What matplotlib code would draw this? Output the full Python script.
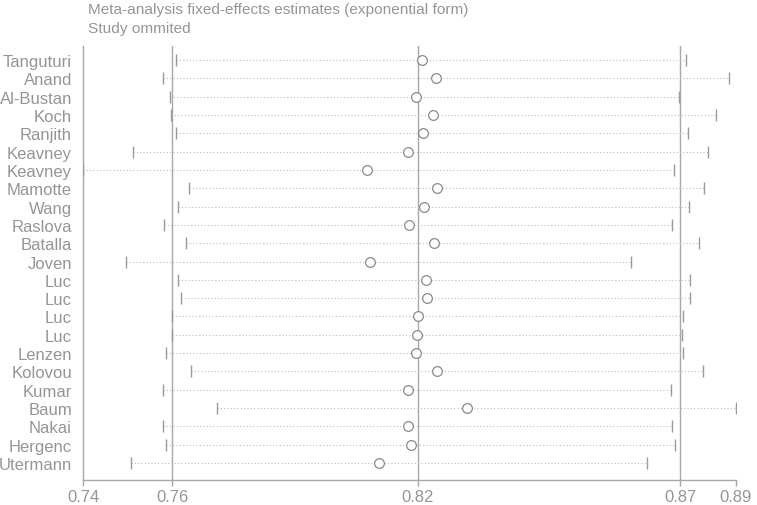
import matplotlib
matplotlib.use("Agg")
import matplotlib.pyplot as plt

studies = ["Tanguturi", "Anand", "Al-Bustan", "Koch", "Ranjith", "Keavney", "Keavney",
           "Mamotte", "Wang", "Raslova", "Batalla", "Joven", "Luc", "Luc", "Luc", "Luc",
           "Lenzen", "Kolovou", "Kumar", "Baum", "Nakai", "Hergenc", "Utermann"]
estimate = [0.8169, 0.8199, 0.8155, 0.8194, 0.8171, 0.8138, 0.8046, 0.8203, 0.8173, 0.8140,
            0.8195, 0.8053, 0.8177, 0.8179, 0.8160, 0.8158, 0.8155, 0.8203, 0.8138, 0.8268,
            0.8138, 0.8144, 0.8074]
lower = [0.7624, 0.7596, 0.7610, 0.7613, 0.7625, 0.7529, 0.7418, 0.7652, 0.7629, 0.7598,
         0.7647, 0.7513, 0.7629, 0.7634, 0.7615, 0.7615, 0.7602, 0.7657, 0.7596, 0.7715,
         0.7596, 0.7602, 0.7525]
upper = [0.8754, 0.8849, 0.8737, 0.8819, 0.8758, 0.8801, 0.8727, 0.8794, 0.8759, 0.8722,
         0.8781, 0.8631, 0.8763, 0.8763, 0.8747, 0.8744, 0.8747, 0.8792, 0.8721, 0.8864,
         0.8722, 0.8729, 0.8666]
# overall estimate and CI (reference lines), and axis extremes
overall = [0.7616, 0.8159, 0.8741]
tick_values = [0.7418, 0.7616, 0.8159, 0.8741, 0.8864]
tick_labels = ["0.74", "0.76", "0.82", "0.87", "0.89"]

plt.rcParams['font.family'] = ['Liberation Sans', 'DejaVu Sans']
TXT = "#959595"
LN = "#a8a8a8"

fig = plt.figure(figsize=(7.57, 5.06), dpi=100)
W, H = 757, 506
ax = fig.add_axes([83 / W, 1 - 481 / H, (736 - 83) / W, (481 - 47) / H])

n = len(studies)
ys = list(range(n, 0, -1))

for x in overall:
    ax.axvline(x, color=LN, lw=1.0, zorder=1)

for y, lo, est, hi in zip(ys, lower, estimate, upper):
    ax.plot([lo, hi], [y, y], color="#bcbcbc", lw=0.8, ls=(0, (1, 2)), zorder=2)
ax.plot(lower, ys, ls="none", marker="|", ms=9, mew=1.0, color="#9a9a9a", zorder=3)
ax.plot(upper, ys, ls="none", marker="|", ms=9, mew=1.0, color="#9a9a9a", zorder=3)
ax.plot(estimate, ys, ls="none", marker="o", ms=7, mfc="white", mec="#8a8a8a",
        mew=0.9, zorder=4)

ax.set_xlim(tick_values[0], tick_values[-1])
ax.set_ylim(1 - 17 / 18.32, n + 14 / 18.32)
ax.set_xticks(tick_values)
ax.set_xticklabels(tick_labels)
ax.set_yticks(ys)
ax.set_yticklabels(studies)
ax.tick_params(axis="x", colors=LN, labelcolor=TXT, labelsize=12, length=4.5, width=1.0, pad=2)
ax.tick_params(axis="y", length=0, labelcolor=TXT, labelsize=12, pad=8)
for s in ["top", "right"]:
    ax.spines[s].set_visible(False)
for s in ["left", "bottom"]:
    ax.spines[s].set_color(LN)
    ax.spines[s].set_linewidth(1.0)
ax.set_facecolor("white")

fig.text(88 / W, 1 - 10 / H, "Meta-analysis fixed-effects estimates (exponential form)",
         color=TXT, fontsize=11.1, ha="left", va="center")
fig.text(88 / W, 1 - 29 / H, "Study ommited", color=TXT, fontsize=11.1, ha="left", va="center")

fig.savefig("out.png", dpi=100, facecolor="white")
